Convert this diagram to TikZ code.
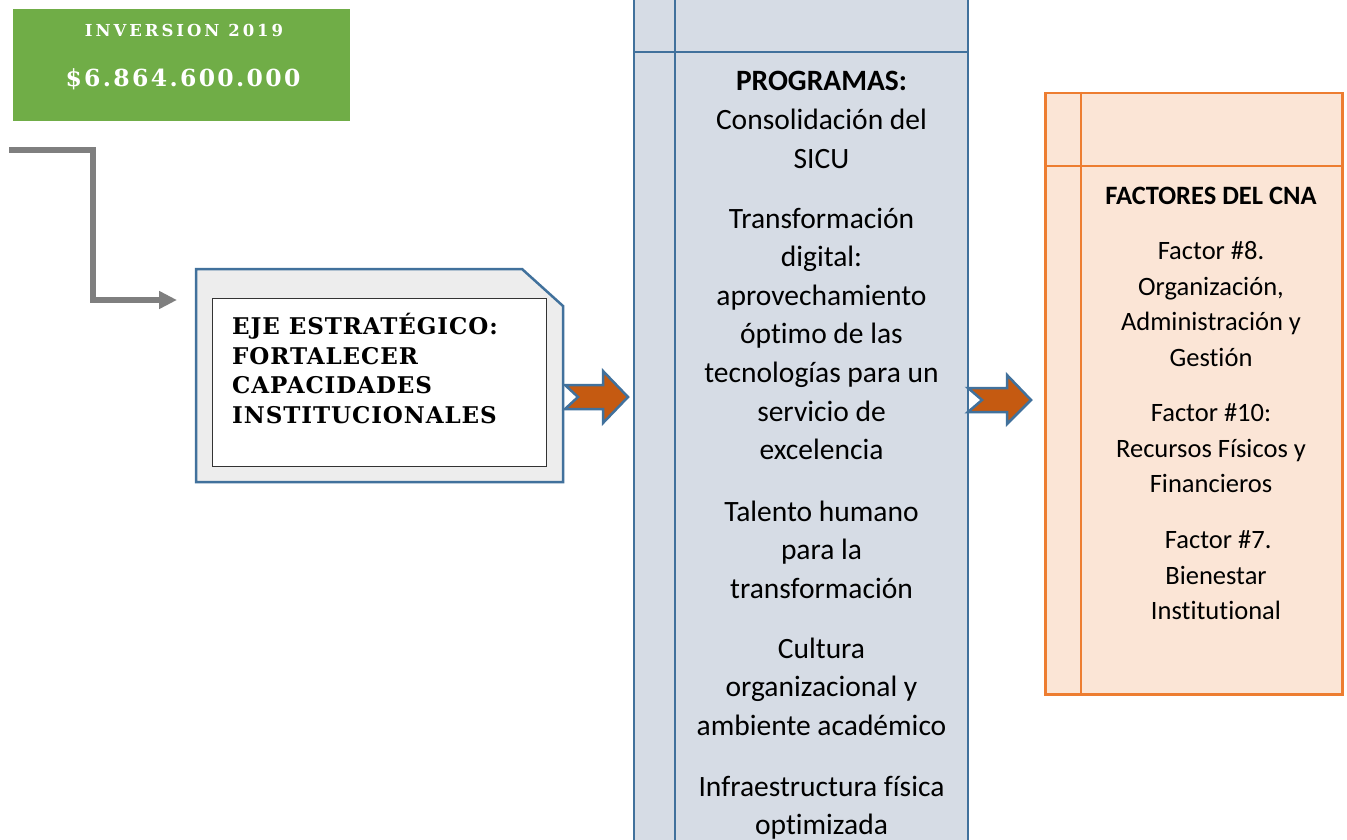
\documentclass[tikz,border=0pt]{standalone}
\usepackage{fontspec}
\setmainfont{Carlito}[Ligatures=NoCommon]
\newfontfamily\serifwide[LetterSpace=18]{DejaVu Serif}
\newfontfamily\serifamt[LetterSpace=10]{DejaVu Serif}
\newfontfamily\ejefont[LetterSpace=4]{DejaVu Serif}
\usetikzlibrary{arrows.meta}
\definecolor{cgreen}{HTML}{70AD47}
\definecolor{cblue}{HTML}{41719C}
\definecolor{ccol}{HTML}{D6DCE5}
\definecolor{corange}{HTML}{C55A11}
\definecolor{cpeach}{HTML}{FBE5D6}
\definecolor{cborder}{HTML}{ED7D31}
\definecolor{cgray}{HTML}{7F7F7F}
\definecolor{cfold}{HTML}{EDEDED}
\begin{document}
\begin{tikzpicture}[x=1pt,y=-1pt,
  greenbox/.style={fill=cgreen,draw=none,anchor=north west,inner sep=0},
  conn/.style={draw=cgray,line width=6pt,line join=miter,-{Triangle[length=18pt,width=17pt]}},
  chev/.style={fill=corange,draw=cblue,line width=2.5pt,line join=miter},
  foldbox/.style={fill=cfold,draw=cblue,line width=2.5pt,line join=miter},
  innerbox/.style={fill=white,draw=black!80,line width=1.3pt,anchor=north west,inner sep=0},
  colbox/.style={fill=ccol,draw=cblue,line width=2.5pt,inner sep=0},
  colline/.style={draw=cblue,line width=2.5pt},
  cnabox/.style={fill=cpeach,draw=cborder,line width=2.5pt,inner sep=0,anchor=north west},
  cnaline/.style={draw=cborder,line width=2.5pt},
  ptext/.style={align=center,anchor=base,inner sep=0,font=\fontsize{29.5}{38.6}\selectfont},
  ctext/.style={align=center,anchor=base,inner sep=0,font=\fontsize{26.5}{35.5}\selectfont},
]
\useasboundingbox (0,0) rectangle (1347,840);
\fill[white] (0,0) rectangle (1347,840);

% green investment box
\node[greenbox,minimum width=337pt,minimum height=112pt] (inv) at (13,9) {};
\node[anchor=base,inner sep=0,text=white,font=\serifwide\bfseries\fontsize{16.5}{17}\selectfont] (invt) at (184,36.7) {INVERSION 2019};
\node[anchor=base,inner sep=0,text=white,font=\serifamt\bfseries\fontsize{23.5}{24}\selectfont] (amt) at (183,87) {\$6.864.600.000};

% grey connector
\coordinate (c0) at (9,150);
\coordinate (c1) at (177,300);
\draw[conn] (c0) -- ++(84,0) |- (c1);

% folded-corner box
\draw[foldbox] (196,269) -- (522,269) -- (563,306) -- (563,482) -- (196,482) -- cycle;
\node[innerbox,minimum width=334pt,minimum height=168pt] (eje) at (212,298) {};
\node[anchor=base west,align=left,inner sep=0,font=\ejefont\bfseries\fontsize{23}{29.5}\selectfont] (ejet) at (232,423) {EJE ESTRATÉGICO:\\FORTALECER\\CAPACIDADES\\INSTITUCIONALES};

% middle column
\begin{scope}
\clip (0,0) rectangle (1347,840);
\node[colbox,minimum width=334pt,minimum height=900pt] (prog) at (801,420) {};
\draw[colline] (675,-20) -- (675,860);
\draw[colline] (634,52) -- (968,52);
\end{scope}
\node[ptext] (p1) at (821.5,168.2) {\textbf{PROGRAMAS:}\\Consolidación del\\SICU};
\node[ptext] (p2) at (821.5,459.6) {Transformación\\digital:\\aprovechamiento\\óptimo de las\\tecnologías para un\\servicio de\\excelencia};
\node[ptext] (p3) at (821.5,598.2) {Talento humano\\para la\\transformación};
\node[ptext] (p4) at (821.5,735.2) {Cultura\\organizacional y\\ambiente académico};
\node[ptext] (p5) at (821.5,834.6) {Infraestructura física\\optimizada};

% right box
\node[cnabox,minimum width=297pt,minimum height=601pt] (cna) at (1044,92) {};
\draw[cnaline] (1081,92) -- (1081,693);
\draw[cnaline] (1044,166) -- (1341,166);
\node[ctext] (f0) at (1211,204.5) {\textbf{FACTORES DEL CNA}};
\node[ctext] (f1) at (1211,366) {Factor \#8.\\Organización,\\Administración y\\Gestión};
\node[ctext] (f2) at (1211,492.5) {Factor \#10:\\Recursos Físicos y\\Financieros};
\node[ctext] (f3) at (1216,619.5) {\,Factor \#7.\\Bienestar\\Institutional};

% chevron arrows
\draw[chev] (565,385) -- (603,385) -- (603,371) -- (628,397) -- (603,423) -- (603,409) -- (565,409) -- (578,397) -- cycle;
\draw[chev] (968,388) -- (1007,388) -- (1007,375) -- (1031,400) -- (1007,424) -- (1007,412) -- (968,412) -- (982,400) -- cycle;
\end{tikzpicture}
\end{document}
